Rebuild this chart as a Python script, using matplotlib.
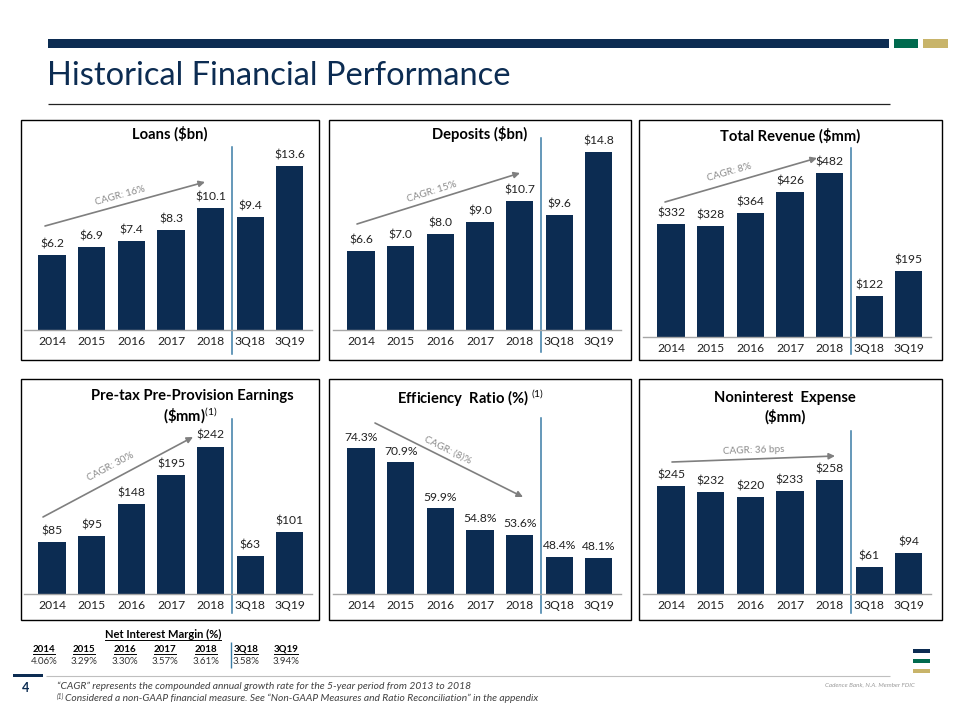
import matplotlib
matplotlib.use("Agg")
import matplotlib.pyplot as plt
from matplotlib.patches import Rectangle, FancyArrowPatch
from matplotlib.lines import Line2D
import matplotlib.transforms as mtransforms
from matplotlib import font_manager

# ---------------- data ----------------
periods = ["2014", "2015", "2016", "2017", "2018", "3Q18", "3Q19"]
loans = [6.2, 6.9, 7.4, 8.3, 10.1, 9.4, 13.6]
deposits = [6.6, 7.0, 8.0, 9.0, 10.7, 9.6, 14.8]
revenue = [332, 328, 364, 426, 482, 122, 195]
ppe = [85, 95, 148, 195, 242, 63, 101]
efficiency = [74.3, 70.9, 59.9, 54.8, 53.6, 48.4, 48.1]
nonint_exp = [245, 232, 220, 233, 258, 61, 94]
nim = [4.06, 3.29, 3.30, 3.57, 3.61, 3.58, 3.94]
cagr_labels = ["CAGR: 16%", "CAGR: 15%", "CAGR: 8%", "CAGR: 30%", "CAGR: (8)%", "CAGR: 36 bps"]

# ---------------- style ----------------
names = {f.name for f in font_manager.fontManager.ttflist}
BODY = "Lato" if "Lato" in names else "DejaVu Sans"
NARROW = "Liberation Sans Narrow" if "Liberation Sans Narrow" in names else BODY
plt.rcParams["font.family"] = [BODY, "DejaVu Sans"]
plt.rcParams["mathtext.fontset"] = "custom"
plt.rcParams["mathtext.rm"] = BODY
plt.rcParams["mathtext.bf"] = BODY + ":bold"

NAVY = "#0C2C52"
GREEN = "#006A4E"
GOLD = "#C8B46A"
DIV = "#3A7CA5"
GRAYLINE = "#A6A6A6"
ARROW = "#7F7F7F"

W, H = 960, 720
fig = plt.figure(figsize=(9.6, 7.2), dpi=100)
fig.patch.set_facecolor("white")


def fx(x):
    return x / W


def fy(y):
    return 1 - y / H


def line(x0, y0, x1, y1, color, lw):
    fig.add_artist(Line2D([fx(x0), fx(x1)], [fy(y0), fy(y1)], color=color, lw=lw,
                          transform=fig.transFigure, solid_capstyle="butt"))


def rect(x0, y0, x1, y1, fc, ec="none", lw=0):
    fig.add_artist(Rectangle((fx(x0), fy(y1)), fx(x1) - fx(x0), fy(y0) - fy(y1),
                             transform=fig.transFigure, facecolor=fc, edgecolor=ec, lw=lw))


def ftext(x, y, s, **kw):
    return fig.text(fx(x), fy(y), s, **kw)


# ---------------- header ----------------
rect(48, 39, 889, 48, NAVY)
rect(894, 39, 918, 48, GREEN)
rect(923, 39, 948, 48, GOLD)
ftext(47, 76, "Historical Financial Performance", family=[NARROW, "DejaVu Sans"],
      fontsize=23.5, color=NAVY, va="center", ha="left")
line(48, 104, 890, 104, "#222222", 0.9)

# ---------------- panels ----------------
cols_box = [(21, 319), (329, 631), (639, 942)]
cols_ax = [(24, 312), (333, 621), (643, 931)]
rows_box = [(120, 360), (379, 620)]


def panel(col, row, base, ylim, values, fmt, titles, cagr, div_y):
    bx0, bx1 = cols_box[col]
    by0, by1 = rows_box[row]
    rect(bx0, by0, bx1, by1, "none", "black", 1.0)
    ax0, ax1 = cols_ax[col]
    top = by0 + 20
    ax = fig.add_axes([fx(ax0), fy(base), fx(ax1) - fx(ax0), (base - top) / H])
    x = list(range(len(periods)))
    ax.bar(x, values, width=0.69, color=NAVY, zorder=2)
    ax.set_xlim(-0.71, 6.56)
    ax.set_ylim(*ylim)
    for s in ["top", "left", "right"]:
        ax.spines[s].set_visible(False)
    ax.spines["bottom"].set_color(GRAYLINE)
    ax.spines["bottom"].set_linewidth(1.0)
    ax.set_yticks([])
    ax.set_xticks(x, periods)
    ax.tick_params(axis="x", length=0, pad=4, labelsize=8.7, labelcolor="#222222")
    ax.patch.set_alpha(0)
    for xi, v in zip(x, values):
        ax.annotate(fmt(v), (xi, v), xytext=(0, 4), textcoords="offset points",
                    ha="center", va="bottom", fontsize=8.7, color="#222222")
    # divider between annual and quarterly
    trans = mtransforms.blended_transform_factory(ax.transData, fig.transFigure)
    ax.add_line(Line2D([4.55, 4.55], [fy(div_y[0]), fy(div_y[1])], color=DIV, lw=1.1,
                       transform=trans, clip_on=False))
    # titles
    for (tx, ty, s) in titles:
        ftext(tx, ty, s, ha="center", va="center", fontsize=10.6, fontweight="bold", color="black")
    # CAGR arrow
    (sx, sy), (ex, ey), (tx, ty), ang, lab = cagr
    fig.add_artist(FancyArrowPatch(
        (fx(sx), fy(sy)), (fx(ex), fy(ey)), transform=fig.transFigure,
        arrowstyle="-|>", mutation_scale=9, color=ARROW, lw=1.2, shrinkA=0, shrinkB=0))
    ftext(tx, ty, lab, ha="center", va="center", fontsize=7.2, color="#8C8C8C", rotation=ang,
          rotation_mode="anchor")
    return ax


def money1(v):
    return "${:.1f}".format(v)


def money0(v):
    return "${:.0f}".format(v)


def pct1(v):
    return "{:.1f}%".format(v)


panel(0, 0, 330, (0, 15.75), loans, money1, [(170, 134, "Loans ($bn)")],
      ((45, 226), (205, 182), (120, 196), 15.5, cagr_labels[0]), (147, 354))
panel(1, 0, 330, (0, 15.8), deposits, money1, [(480, 134, "Deposits ($bn)")],
      ((357, 224), (520, 173), (432, 192), 17.5, cagr_labels[1]), (138, 352))
panel(2, 0, 337, (0, 580), revenue, money0, [(790, 136, "Total Revenue ($mm)")],
      ((665, 202), (817, 158), (729, 172), 16, cagr_labels[2]), (148, 354))
panel(0, 1, 594, (0, 320), ppe, money0,
      [(192, 396, "Pre-tax Pre-Provision Earnings"), (190, 415, r"(\$mm)$^{(1)}$")],
      ((43, 517), (193, 437), (111, 467), 28, cagr_labels[3]), (419, 613))
panel(1, 1, 594, (39.5, 86.0), efficiency, pct1,
      [(471, 398, r"Efficiency  Ratio (%) $^{(1)}$")],
      ((375, 423), (523, 497), (448, 450), -26.5, cagr_labels[4]), (418, 613))
panel(2, 1, 594, (0, 443), nonint_exp, money0,
      [(785, 398, "Noninterest  Expense"), (785, 417, "($mm)")],
      ((672, 462), (835, 456), (754, 450), 2, cagr_labels[5]), (431, 613))

# ---------------- Net interest margin table ----------------
renderer = fig.canvas.get_renderer()


def underlined(x, y, s, **kw):
    t = ftext(x, y, s, **kw)
    bb = t.get_window_extent(renderer=renderer)
    yl = bb.y0 - 0.5
    fig.add_artist(Line2D([bb.x0 / W, bb.x1 / W], [yl / H, yl / H], color="black", lw=0.7,
                          transform=fig.transFigure))
    return t


underlined(163, 634, "Net Interest Margin (%)", ha="center", va="center", fontsize=8,
           fontweight="bold", family=[NARROW, "DejaVu Sans"])
nim_x = [44, 84, 125, 165, 206, 246, 286]
for xx, p, v in zip(nim_x, periods, nim):
    underlined(xx, 649, p, ha="center", va="center", fontsize=7, fontweight="bold",
               family=[NARROW, "DejaVu Sans"])
    ftext(xx, 662, "{:.2f}%".format(v), ha="center", va="center", fontsize=7,
          color="#333333", family=[NARROW, "DejaVu Sans"])
line(231, 642, 231, 668, DIV, 1.0)

# ---------------- footer ----------------
rect(13, 674, 43, 677, NAVY)
line(46, 676, 890, 676, "#BFBFBF", 0.8)
ftext(26, 688, "4", ha="center", va="center", fontsize=9, fontweight="bold", color=NAVY)
ftext(57, 686, "\u201cCAGR\u201d represents the compounded annual growth rate for the 5-year period from 2013 to 2018",
      ha="left", va="center", fontsize=7.4, style="italic", color="#404040")
ftext(57, 696, "(1)", ha="left", va="center", fontsize=4.8, style="italic", color="#404040")
ftext(65, 698, "Considered a non-GAAP financial measure. See \u201cNon-GAAP Measures and Ratio Reconciliation\u201d in the appendix",
      ha="left", va="center", fontsize=7.4, style="italic", color="#404040")
ftext(915, 685, "Cadence Bank, N.A. Member FDIC", ha="right", va="center", fontsize=4.5,
      style="italic", color="#9A9A9A")
rect(913, 649, 930, 653, NAVY)
rect(913, 659, 930, 663, GREEN)
rect(913, 669, 930, 673, GOLD)

fig.savefig("out.png", dpi=100)
